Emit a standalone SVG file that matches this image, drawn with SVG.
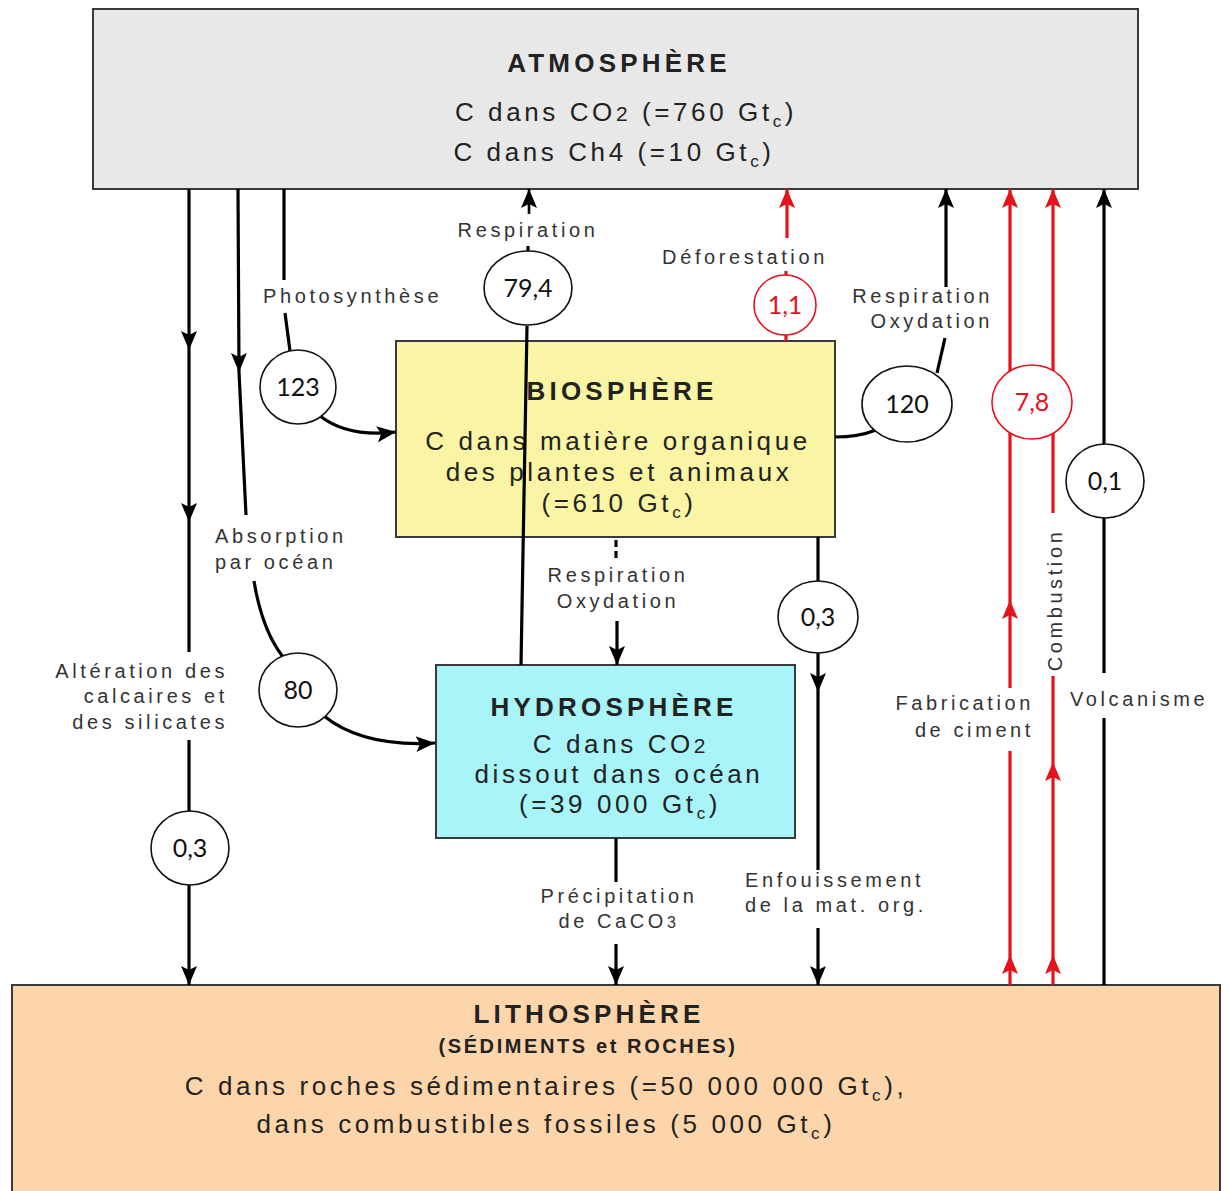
<svg xmlns="http://www.w3.org/2000/svg" width="1229" height="1191" viewBox="0 0 1229 1191">
<defs>
<style>
.box{stroke:#3a3a3a;stroke-width:2}
.title{font-family:"Liberation Sans",Arial,sans-serif;font-weight:bold;font-size:26px;letter-spacing:4.2px;fill:#222;text-anchor:middle}
.body{font-family:"Liberation Sans",Arial,sans-serif;font-size:26px;letter-spacing:3.6px;fill:#222;text-anchor:middle}
.lbl{font-family:"Liberation Sans",Arial,sans-serif;font-size:20px;letter-spacing:3.6px;fill:#333}
.num{font-family:Lato,"Liberation Sans",sans-serif;font-size:25px;fill:#111;text-anchor:middle}
.circ{fill:#fff;stroke:#111;stroke-width:1.6}
.rcirc{fill:#fff;stroke:#e3121b;stroke-width:1.6}
.k{fill:none;stroke:#000;stroke-width:3.2}
.r{fill:none;stroke:#e3121b;stroke-width:3.2}
.ka{marker-end:url(#ah)}
.ra{marker-end:url(#ahr)}
</style>
<marker id="ah" markerUnits="userSpaceOnUse" markerWidth="20" markerHeight="20" viewBox="0 0 20 20" refX="19" refY="10" orient="auto">
<path d="M0,2 L19,10 L0,18 L4,10 Z" fill="#000"/>
</marker>
<marker id="ahr" markerUnits="userSpaceOnUse" markerWidth="20" markerHeight="20" viewBox="0 0 20 20" refX="19" refY="10" orient="auto">
<path d="M0,2 L19,10 L0,18 L4,10 Z" fill="#e3121b"/>
</marker>
</defs>
<rect width="1229" height="1191" fill="#fff"/>

<g id="atmosphere">
<rect class="box" x="93" y="9" width="1045" height="180" fill="#e8e8e8"/>
<text class="title" x="619" y="72">ATMOSPHÈRE</text>
<text class="body" x="626" y="121">C dans CO<tspan font-size="21">2</tspan> (=760 Gt<tspan dy="6" font-size="17">c</tspan><tspan dy="-6">)</tspan></text>
<text class="body" x="614" y="161">C dans Ch4 (=10 Gt<tspan dy="6" font-size="17">c</tspan><tspan dy="-6">)</tspan></text>
</g>

<g id="biosphere">
<rect class="box" x="396" y="341" width="439" height="196" fill="#f9f5a4"/>
<text class="title" x="622" y="400">BIOSPHÈRE</text>
<text class="body" x="618" y="450">C dans matière organique</text>
<text class="body" x="619" y="481">des plantes et animaux</text>
<text class="body" x="619" y="512">(=610 Gt<tspan dy="6" font-size="17">c</tspan><tspan dy="-6">)</tspan></text>
</g>

<g id="hydrosphere">
<rect class="box" x="436" y="665" width="359" height="173" fill="#a8f4f8"/>
<text class="title" x="614" y="716">HYDROSPHÈRE</text>
<text class="body" x="621" y="753">C dans CO<tspan font-size="21">2</tspan></text>
<text class="body" x="619" y="783">dissout dans océan</text>
<text class="body" x="620" y="813">(=39 000 Gt<tspan dy="6" font-size="17">c</tspan><tspan dy="-6">)</tspan></text>
</g>

<g id="lithosphere">
<rect class="box" x="12" y="985" width="1208" height="210" fill="#fdd5aa"/>
<text class="title" x="589" y="1023">LITHOSPHÈRE</text>
<text class="title" x="588" y="1053" style="font-size:20px;letter-spacing:2.6px">(SÉDIMENTS et ROCHES)</text>
<text class="body" x="546" y="1095">C dans roches sédimentaires (=50 000 000 Gt<tspan dy="6" font-size="17">c</tspan><tspan dy="-6">),</tspan></text>
<text class="body" x="546" y="1133">dans combustibles fossiles (5 000 Gt<tspan dy="6" font-size="17">c</tspan><tspan dy="-6">)</tspan></text>
</g>

<g id="connectors">
<!-- Altération -->
<path class="k ka" d="M189,189 V350"/>
<path class="k ka" d="M189,350 V522"/>
<path class="k" d="M189,522 V652"/>
<path class="k" d="M189,740 V812"/>
<path class="k ka" d="M189,885 V985"/>
<!-- Absorption -->
<path class="k ka" d="M238,189 L239,372"/>
<path class="k" d="M239,372 Q243,450 246,515"/>
<path class="k" d="M254,581 Q262,630 283,657"/>
<path class="k ka" d="M324,716 C350,737 385,746 435,743"/>
<!-- Photosynthese -->
<path class="k" d="M284,189 V280"/>
<path class="k" d="M285,313 L290,351"/>
<path class="k ka" d="M320,416 C338,430 362,436 396,432"/>
<!-- Respiration 79,4 -->
<path class="k" d="M521,665 L527,326"/>
<path class="k" d="M528,251 V246"/>
<path class="k ka" d="M529,214 V189" style="stroke-width:2.6"/>
<!-- Deforestation -->
<path class="r" d="M786,341 V335"/>
<path class="r" d="M786,275 V271"/>
<path class="r ra" d="M787,238 V189"/>
<!-- Respiration oxydation 120 -->
<path class="k" d="M835,437 C855,437 866,434 876,430"/>
<path class="k" d="M937,373 L945,338"/>
<path class="k ka" d="M946,287 V189"/>
<!-- bio -> hydro -->
<path class="k" d="M616,540 V562" style="stroke-dasharray:7,4"/>
<path class="k ka" d="M617,621 V665"/>
<!-- hydro -> litho -->
<path class="k" d="M616,838 V882"/>
<path class="k ka" d="M616,944 V985"/>
<!-- Enfouissement -->
<path class="k" d="M818,537 V581"/>
<path class="k ka" d="M818,653 V692"/>
<path class="k" d="M818,692 V870"/>
<path class="k ka" d="M818,928 V985"/>
<!-- Fabrication de ciment -->
<path class="r ra" d="M1010,985 V955"/>
<path class="r" d="M1010,955 V751"/>
<path class="r ra" d="M1010,688 V600"/>
<path class="r ra" d="M1010,600 V189"/>
<!-- Combustion -->
<path class="r ra" d="M1053,985 V955"/>
<path class="r ra" d="M1053,955 V762"/>
<path class="r" d="M1053,762 V676"/>
<path class="r ra" d="M1053,513 V189"/>
<!-- Volcanisme -->
<path class="k" d="M1104,985 V718"/>
<path class="k ka" d="M1104,673 V189"/>
</g>

<g id="labels">
<text class="lbl" x="528" y="237" text-anchor="middle">Respiration</text>
<text class="lbl" x="263" y="303">Photosynthèse</text>
<text class="lbl" x="745" y="264" text-anchor="middle">Déforestation</text>
<text class="lbl" x="993" y="303" text-anchor="end">Respiration</text>
<text class="lbl" x="993" y="328" text-anchor="end">Oxydation</text>
<text class="lbl" x="215" y="543">Absorption</text>
<text class="lbl" x="215" y="569">par océan</text>
<text class="lbl" x="228" y="678" text-anchor="end">Altération des</text>
<text class="lbl" x="228" y="703" text-anchor="end">calcaires et</text>
<text class="lbl" x="228" y="729" text-anchor="end">des silicates</text>
<text class="lbl" x="618" y="582" text-anchor="middle">Respiration</text>
<text class="lbl" x="618" y="608" text-anchor="middle">Oxydation</text>
<text class="lbl" x="619" y="903" text-anchor="middle">Précipitation</text>
<text class="lbl" x="619" y="928" text-anchor="middle">de CaCO<tspan font-size="16">3</tspan></text>
<text class="lbl" x="745" y="887">Enfouissement</text>
<text class="lbl" x="745" y="912">de la mat. org.</text>
<text class="lbl" x="1034" y="710" text-anchor="end">Fabrication</text>
<text class="lbl" x="1034" y="737" text-anchor="end">de ciment</text>
<text class="lbl" x="0" y="0" text-anchor="middle" transform="translate(1062,600) rotate(-90)">Combustion</text>
<text class="lbl" x="1070" y="706">Volcanisme</text>
</g>

<g id="flux-123"><ellipse class="circ" cx="298" cy="387" rx="38" ry="37"/><text class="num" x="298" y="396">123</text></g>
<g id="flux-79-4"><ellipse class="circ" cx="528" cy="288" rx="44" ry="37"/><text class="num" x="528" y="297">79,4</text></g>
<g id="flux-1-1"><ellipse class="rcirc" cx="785" cy="305" rx="31" ry="30"/><text class="num" x="785" y="314" style="fill:#e3121b">1,1</text></g>
<g id="flux-120"><ellipse class="circ" cx="907" cy="404" rx="45" ry="38"/><text class="num" x="907" y="413">120</text></g>
<g id="flux-7-8"><ellipse class="rcirc" cx="1032" cy="402" rx="40" ry="37"/><text class="num" x="1032" y="411" style="fill:#e3121b">7,8</text></g>
<g id="flux-0-1"><ellipse class="circ" cx="1105" cy="481" rx="39" ry="37"/><text class="num" x="1105" y="490">0,1</text></g>
<g id="flux-0-3-enf"><ellipse class="circ" cx="818" cy="617" rx="40" ry="36"/><text class="num" x="818" y="626">0,3</text></g>
<g id="flux-80"><ellipse class="circ" cx="298" cy="690" rx="39" ry="37"/><text class="num" x="298" y="699">80</text></g>
<g id="flux-0-3-alt"><ellipse class="circ" cx="190" cy="848" rx="39" ry="37"/><text class="num" x="190" y="857">0,3</text></g>
</svg>
